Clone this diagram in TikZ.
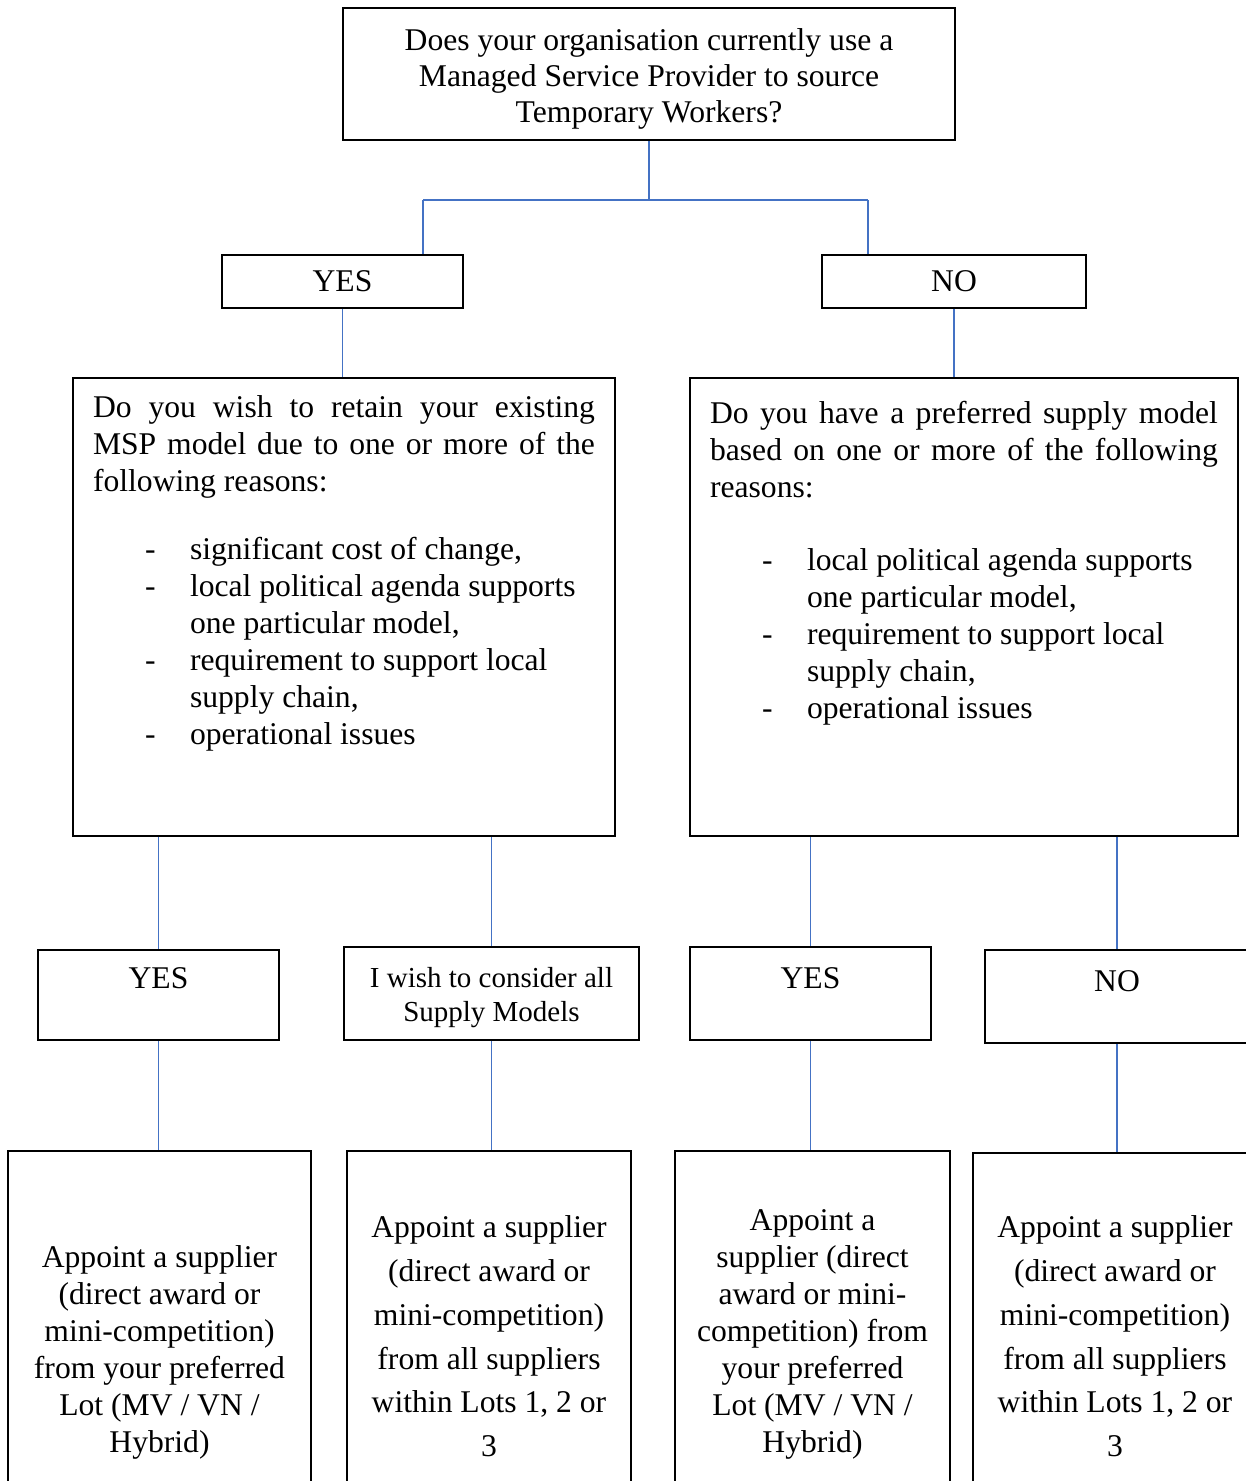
\documentclass[tikz,border=0pt]{standalone}
\usepackage{fontspec}
\setmainfont{Liberation Serif}
\usetikzlibrary{positioning,calc}
\definecolor{linkblue}{HTML}{4472C4}
% one dashed reason line inside a question box
\newcommand{\reason}[1]{\par\raggedright\noindent\hangindent=1.94cm\hangafter=1%
  \makebox[1.94cm][l]{\hspace{1.04cm}-}#1}
\begin{document}
\begin{tikzpicture}[x=0.02cm, y=-0.02cm]
  \tikzset{box/.style={draw, line width=1.1pt, inner sep=0pt, align=center,
                       font=\fontsize{18}{21}\selectfont},
           qbox/.style={draw, line width=1.1pt, inner xsep=0.4cm,
                        font=\fontsize{18}{21}\selectfont},
           uptext/.style={text height=0.4cm, text depth=0.4cm+#1},
           link/.style={draw=linkblue, line width=0.85pt}}
  \useasboundingbox (0,0) rectangle (1246,1481);
  \clip (0,0) rectangle (1246,1481);

  \node[box, minimum width=12.24cm, minimum height=2.64cm, font=\fontsize{18}{20.7}\selectfont]
    (msp) at (649,74)
    {\rule{0pt}{18pt}Does your organisation currently use a\\Managed Service Provider to source\\Temporary Workers?};
  \node[box, minimum width=4.82cm, minimum height=1.06cm] (yes1) at (342.5,281.5) {YES};
  \node[box, minimum width=5.28cm, minimum height=1.06cm] (no1) at (954,281.5) {NO};

  \node[qbox, inner ysep=0.36cm] (retain) at (344,607) {\parbox[t][8.44cm][t]{10.04cm}{\hyphenpenalty=10000
    Do you wish to retain your existing\linebreak MSP model due to one or more of the\linebreak following reasons:\par
    \vspace{0.62cm}
    \reason{significant cost of change,}
    \reason{local political agenda supports\newline one particular model,}
    \reason{requirement to support local\newline supply chain,}
    \reason{operational issues}}};
  \node[qbox, inner ysep=0.46cm] (prefer) at (964,607) {\parbox[t][8.24cm][t]{10.16cm}{\hyphenpenalty=10000
    Do you have a preferred supply model\linebreak based on one or more of the following\linebreak reasons:\par
    \vspace{0.74cm}
    \reason{local political agenda supports\newline one particular model,}
    \reason{requirement to support local\newline supply chain,}
    \reason{operational issues}}};

  \node[box, uptext=0.28cm, minimum width=4.82cm, minimum height=1.8cm] (yes2) at (158.5,995) {YES};
  \node[box, minimum width=5.9cm, minimum height=1.86cm, font=\fontsize{16.5}{19.3}\selectfont]
    (consider) at (491.5,993.5) {\rule{0pt}{15.8pt}I wish to consider all\\Supply Models};
  \node[box, uptext=0.2cm, minimum width=4.82cm, minimum height=1.86cm] (yes3) at (810.5,993.5) {YES};
  \node[box, uptext=0.22cm, minimum width=5.28cm, minimum height=1.86cm] (no2) at (1117,996.5) {NO};

  \node[box, minimum width=6.06cm, minimum height=7.9cm] (pick1) at (159.5,1348.5)
    {\rule{0pt}{16.8pt}Appoint a supplier\\(direct award or\\mini-competition)\\from your preferred\\Lot (MV / VN /\\Hybrid)};
  \node[box, minimum width=5.68cm, minimum height=7.42cm, font=\fontsize{18}{24.9}\selectfont]
    (pick2) at (489,1336.5)
    {Appoint a supplier\\(direct award or\\mini-competition)\\from all suppliers\\within Lots 1, 2 or\\3};
  \node[box, minimum width=5.5cm, minimum height=7.16cm] (pick3) at (812.5,1330)
    {\rule{0pt}{16.8pt}Appoint a\\supplier (direct\\award or mini-\\competition) from\\your preferred\\Lot (MV / VN /\\Hybrid)};
  \node[box, minimum width=5.68cm, minimum height=7.34cm, font=\fontsize{18}{24.9}\selectfont]
    (pick4) at (1115,1336.5)
    {Appoint a supplier\\(direct award or\\mini-competition)\\from all suppliers\\within Lots 1, 2 or\\3};

  % connectors
  \coordinate (jl) at (423,200);
  \coordinate (jr) at (868,200);
  \draw[link] (msp.south) -- (msp.south |- jl);
  \draw[link] (jl) -- (jr);
  \draw[link] (jl) -- (jl |- yes1.north);
  \draw[link] (jr) -- (jr |- no1.north);
  \draw[link] (yes1.south) -- (yes1.south |- retain.north);
  \draw[link] (no1.south) -- (no1.south |- prefer.north);
  \draw[link] (yes2.north |- retain.south) -- (yes2.north);
  \draw[link] (consider.north |- retain.south) -- (consider.north);
  \draw[link] (yes3.north |- prefer.south) -- (yes3.north);
  \draw[link] (no2.north |- prefer.south) -- (no2.north);
  \draw[link] (yes2.south) -- (yes2.south |- pick1.north);
  \draw[link] (consider.south) -- (consider.south |- pick2.north);
  \draw[link] (yes3.south) -- (yes3.south |- pick3.north);
  \draw[link] (no2.south) -- (no2.south |- pick4.north);
\end{tikzpicture}
\end{document}
